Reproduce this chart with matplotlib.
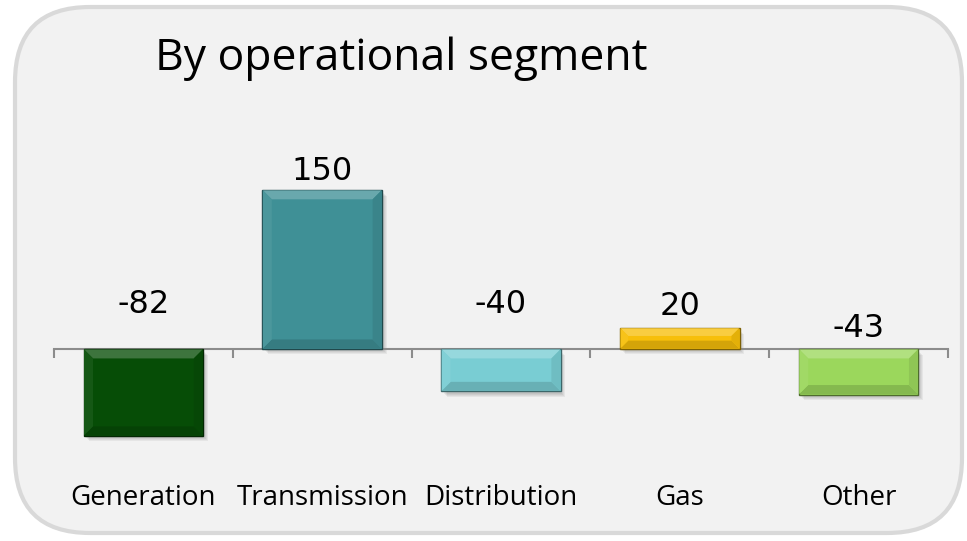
import numpy as np
import matplotlib
matplotlib.use('Agg')
import matplotlib.pyplot as plt
from matplotlib.patches import FancyBboxPatch, Polygon, Rectangle
from matplotlib.colors import to_rgb
from matplotlib.transforms import IdentityTransform

segments = ['Generation', 'Transmission', 'Distribution', 'Gas', 'Other']
values = [-82, 150, -40, 20, -43]

bar_colors = ['#064d06', '#3f9096', '#79cdd3', '#f7bf0a', '#9bd75c']
# baseline of each value label, in data units (as placed in the original)
label_base = [34, 159, 34, 32, 11]


def shade(c, f):
    r = np.array(to_rgb(c))
    if f > 0:
        return tuple(r + (1 - r) * f)
    return tuple(r * (1 + f))


fig = plt.figure(figsize=(9.67, 5.41), dpi=100)
fig.patch.set_facecolor('white')

box = FancyBboxPatch((0.15, 0.08), 9.47, 5.26,
                     boxstyle='round,pad=0,rounding_size=0.75',
                     transform=fig.dpi_scale_trans,
                     facecolor='#f2f2f2', edgecolor='#d9d9d9', linewidth=3,
                     zorder=-5)
fig.add_artist(box)

ax = fig.add_axes([54 / 967, 86 / 541, 894 / 967, 297 / 541])
ax.set_facecolor('none')
ax.set_xlim(-0.5, 4.5)
ax.set_ylim(-100, 180)

x = np.arange(len(segments))
bars = ax.bar(x, values, width=0.67, color=bar_colors, zorder=3,
              edgecolor=[shade(c, -0.5) for c in bar_colors], linewidth=1)

# bevel + soft shadow, like the office chart style
for bar, c in zip(bars, bar_colors):
    bb = bar.get_window_extent()
    x0, x1, y0, y1 = bb.x0 + 0.5, bb.x1 - 0.5, bb.y0 + 0.5, bb.y1 - 0.5
    b = min(9, (y1 - y0) / 2.6)
    for k in range(4):
        ax.add_patch(Rectangle((x0 + 2 + k, y0 - 3 - k), x1 - x0, y1 - y0,
                               transform=IdentityTransform(), facecolor='black',
                               alpha=0.05, edgecolor='none', zorder=2))
    faces = [
        ([(x0, y1), (x1, y1), (x1 - b, y1 - b), (x0 + b, y1 - b)], 0.22),
        ([(x0, y0), (x1, y0), (x1 - b, y0 + b), (x0 + b, y0 + b)], -0.14),
        ([(x0, y0), (x0, y1), (x0 + b, y1 - b), (x0 + b, y0 + b)], 0.06),
        ([(x1, y0), (x1, y1), (x1 - b, y1 - b), (x1 - b, y0 + b)], -0.08),
    ]
    for pts, f in faces:
        ax.add_patch(Polygon(pts, closed=True, transform=IdentityTransform(),
                             facecolor=shade(c, f), edgecolor='none', zorder=4))

for xi, v, yb in zip(x, values, label_base):
    ax.text(xi, yb, str(v), ha='center', va='baseline', fontsize=23,
            family='DejaVu Sans', color='black', zorder=5)

for xi, seg in zip(x, segments):
    ax.annotate(seg, (xi, 0), xytext=(0, -156 * 0.72), textcoords='offset points',
                ha='center', va='baseline', fontsize=20, family='Open Sans')

for s in ['top', 'right', 'left']:
    ax.spines[s].set_visible(False)
ax.spines['bottom'].set_position(('data', 0))
ax.spines['bottom'].set_color('#8c8c8c')
ax.spines['bottom'].set_linewidth(1.5)
ax.spines['bottom'].set_zorder(2.5)
ax.set_yticks([])
ax.set_xticks(np.arange(-0.5, 5, 1))
ax.tick_params(axis='x', direction='out', length=6.5, width=1.5,
               color='#8c8c8c', labelbottom=False)

fig.text(155 / 967, 1 - 70 / 541, 'By operational segment', fontsize=32,
         family='Open Sans', va='baseline', ha='left')

fig.savefig('out.png', dpi=100)
